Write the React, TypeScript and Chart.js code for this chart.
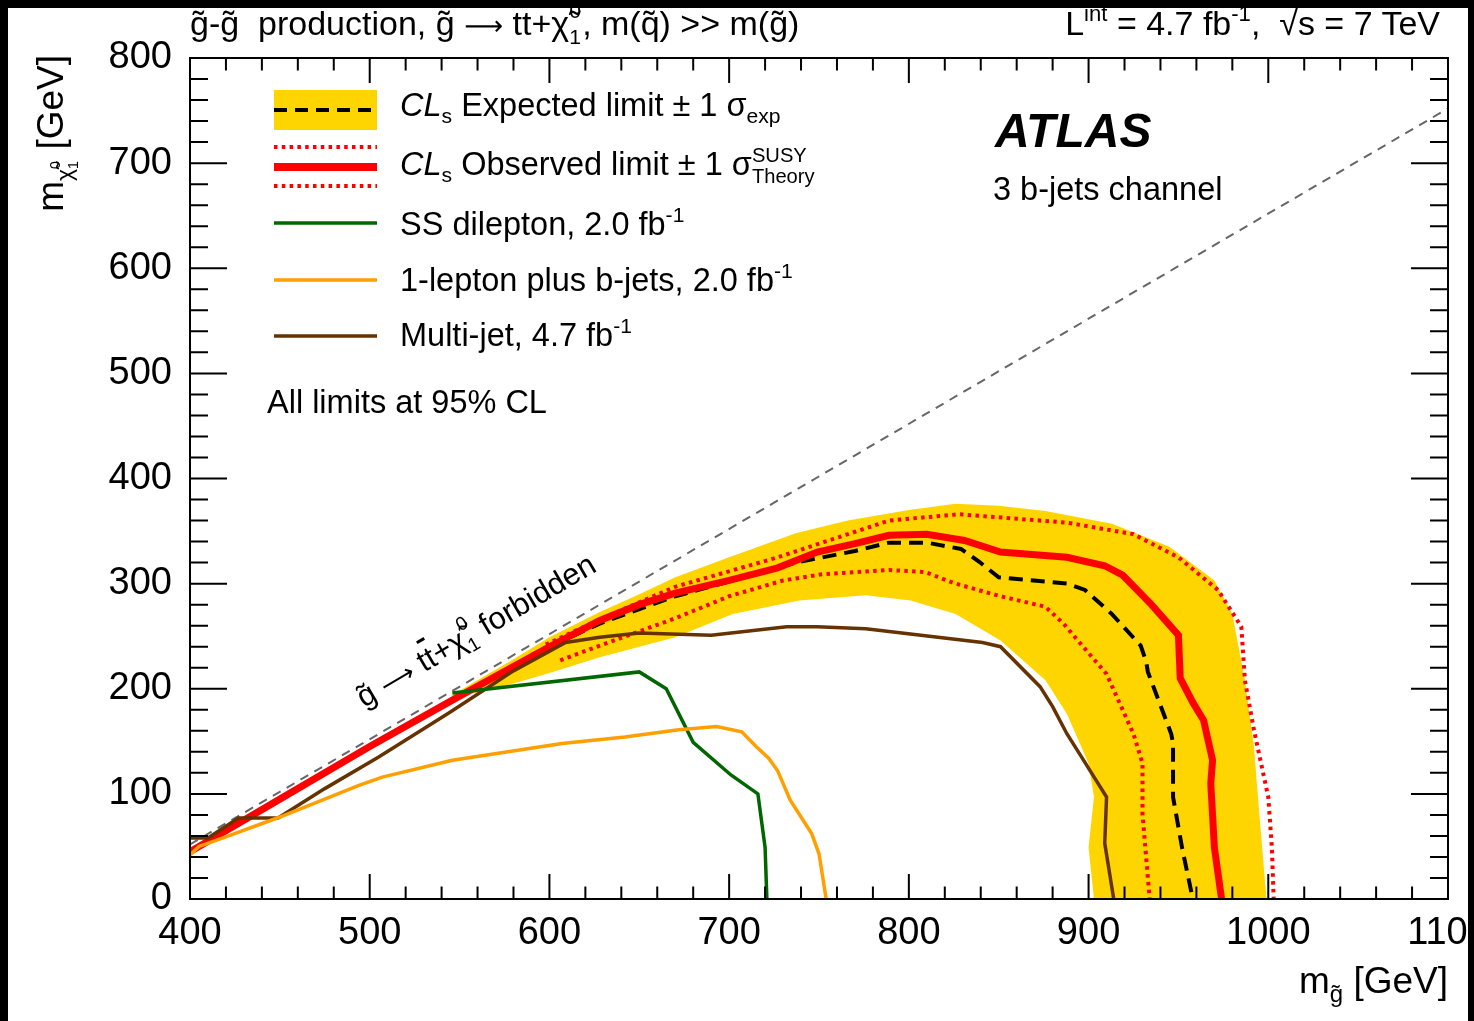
import React, { useEffect, useRef } from "react";
import { Chart, registerables } from "chart.js";

Chart.register(...registerables);

const FONT = "'Liberation Sans', Arial, Helvetica, sans-serif";
const W = 1474;
const H = 1021;

// ---- axes ----
const X_MIN = 400;
const X_MAX = 1100;
const Y_MIN = 0;
const Y_MAX = 800;
const X_MAJOR = 100;
const X_MINOR = 20;
const Y_MAJOR = 100;
const Y_MINOR = 20;

// ---- CLs observed limit ----
const obsX = [400, 450, 500, 550, 600, 628, 650, 670, 700, 727, 749, 770, 789, 810, 831, 851, 888, 909, 919, 935, 950, 951, 958, 964, 969, 968, 970, 974];
const obsY = [45, 95, 145, 193, 240, 265, 280, 291, 303, 315, 330, 338, 346, 347, 341, 330, 325, 317, 308, 280, 251, 210, 187, 170, 132, 110, 49, 0];

// ---- observed +/- 1 sigma theory ----
const thUpX = [598, 628, 670, 727, 789, 828, 888, 925, 950, 972, 985, 987, 992, 1000, 1002, 1003];
const thUpY = [242, 266, 297, 325, 360, 366, 358, 347, 325, 294, 259, 208, 161, 97, 49, 0];
const thDnX = [606, 628, 670, 700, 730, 752, 789, 809, 826, 851, 876, 886, 910, 925, 930, 930, 934];
const thDnY = [227, 241, 267, 288, 303, 309, 313, 311, 300, 288, 278, 262, 214, 157, 129, 81, 0];

// ---- CLs expected limit ----
const expX = [590, 628, 670, 700, 737, 770, 789, 810, 829, 839, 850, 888, 898, 913, 929, 932, 933, 946, 947, 947, 952, 958];
const expY = [232, 262, 288, 302, 320, 331, 339, 339, 333, 321, 306, 300, 294, 271, 241, 226, 216, 157, 148, 97, 49, 0];

// ---- expected +/- 1 sigma band ----
const bandUpX = [545, 560, 580, 600, 628, 650, 670, 700, 737, 766, 800, 826, 850, 876, 913, 945, 970, 980, 987, 992, 995, 999];
const bandUpY = [193, 208, 228, 249, 273, 290, 306, 325, 348, 360, 370, 376, 374, 369, 357, 335, 303, 271, 208, 145, 81, 0];
const bandDnX = [545, 560, 580, 600, 628, 670, 702, 739, 776, 801, 826, 851, 876, 888, 900, 903, 900, 903];
const bandDnY = [193, 196, 205, 215, 230, 249, 271, 284, 289, 284, 271, 246, 208, 176, 129, 97, 49, 0];

// ---- SS dilepton, 2.0 fb-1 ----
const ssX = [546, 650, 665, 680, 701, 716, 720, 721];
const ssY = [196, 216, 200, 149, 118, 100, 49, 0];

// ---- 1-lepton plus b-jets, 2.0 fb-1 ----
const lepX = [400, 405, 418, 450, 494, 507, 546, 607, 642, 672, 693, 707, 715, 722, 727, 734, 746, 750, 754];
const lepY = [42, 50, 58, 78, 108, 116, 132, 148, 154, 161, 164, 159, 145, 134, 122, 94, 62, 43, 0];

// ---- Multi-jet, 4.7 fb-1 ----
const mjX = [400, 410, 427, 449, 475, 505, 544, 580, 609, 628, 650, 690, 732, 749, 776, 841, 851, 873, 880, 888, 895, 910, 909, 914];
const mjY = [58, 58, 77, 77, 105, 135, 177, 217, 244, 249, 253, 251, 259, 259, 257, 244, 240, 202, 183, 157, 138, 97, 53, 0];

// ---- kinematic boundary m(chi) = m(g) - 2 m(t) ----
const diagX = [400, 1100];
const diagY = [52, 752];

const pts = (xs: number[], ys: number[]) => xs.map((x, i) => ({ x, y: ys[i] }));

const YELLOW = "#FFD500";
const RED = "#FF0000";
const GREEN = "#006600";
const ORANGE = "#FF9F00";
const BROWN = "#663300";

const frameTicks = {
  id: "frameTicks",
  afterDatasetsDraw(chart: any) {
    const { ctx, chartArea: a, scales } = chart;
    const xs = scales.x;
    const ys = scales.y;
    ctx.save();
    ctx.strokeStyle = "#000";
    ctx.lineWidth = 2;
    ctx.beginPath();
    for (let v = X_MIN; v <= X_MAX; v += X_MINOR) {
      const p = xs.getPixelForValue(v);
      const len = v % X_MAJOR === 0 ? 25 : 12.5;
      ctx.moveTo(p, a.bottom);
      ctx.lineTo(p, a.bottom - len);
      ctx.moveTo(p, a.top);
      ctx.lineTo(p, a.top + len);
    }
    for (let v = Y_MIN; v <= Y_MAX; v += Y_MINOR) {
      const p = ys.getPixelForValue(v);
      const len = v % Y_MAJOR === 0 ? 37 : 18;
      ctx.moveTo(a.left, p);
      ctx.lineTo(a.left + len, p);
      ctx.moveTo(a.right, p);
      ctx.lineTo(a.right - len, p);
    }
    ctx.stroke();
    ctx.strokeRect(a.left, a.top, a.right - a.left, a.bottom - a.top);
    ctx.restore();
  },
};

function Txt({ x, y, size, right, children, style }: any) {
  const st: any = {
    position: "absolute",
    top: y - 0.8464 * size,
    fontSize: size,
    lineHeight: 1,
    whiteSpace: "nowrap",
    fontFamily: FONT,
    color: "#000",
    ...(style || {}),
  };
  if (right !== undefined) st.right = W - right;
  else st.left = x;
  return <div style={st}>{children}</div>;
}

function Sup({ size, children, dy = 0.42 }: any) {
  return <span style={{ fontSize: size * 0.65, position: "relative", top: -size * dy }}>{children}</span>;
}

function Sub({ size, children, dy = 0.2 }: any) {
  return <span style={{ fontSize: size * 0.65, position: "relative", top: size * dy }}>{children}</span>;
}

function Stack({ size, sup, sub, w, up = 1.05 }: any) {
  return (
    <span style={{ display: "inline-block", position: "relative", width: w, height: 0 }}>
      <span style={{ position: "absolute", left: 0, top: -size * up, fontSize: size * 0.62, lineHeight: 1 }}>{sup}</span>
      <span style={{ position: "absolute", left: 0, top: -size * 0.28, fontSize: size * 0.62, lineHeight: 1 }}>{sub}</span>
    </span>
  );
}

function Arrow() {
  return <span style={{ fontFamily: "'DejaVu Sans', sans-serif", fontSize: "0.8em" }}>{"\u27F6"}</span>;
}

const GT = "g\u0303";
const CHI = "\u03C7\u0303";

export default function App() {
  const ref = useRef<HTMLCanvasElement | null>(null);

  useEffect(() => {
    if (!ref.current) return;
    const bandPoly = [...pts(bandUpX, bandUpY), ...pts(bandDnX, bandDnY).reverse()];
    const base = { pointRadius: 0, pointHoverRadius: 0, tension: 0, fill: false };
    const chart = new Chart(ref.current, {
      type: "line",
      data: {
        datasets: [
          { ...base, label: "band", data: bandPoly, borderWidth: 0, borderColor: YELLOW, backgroundColor: YELLOW, fill: "shape", order: 10 },
          { ...base, label: "diag", data: pts(diagX, diagY), borderColor: "#666666", borderWidth: 2, borderDash: [9, 7], order: 9 },
          { ...base, label: "thUp", data: pts(thUpX, thUpY), borderColor: RED, borderWidth: 4, borderDash: [3.5, 4.3], order: 8 },
          { ...base, label: "thDn", data: pts(thDnX, thDnY), borderColor: RED, borderWidth: 4, borderDash: [3.5, 4.3], order: 8 },
          { ...base, label: "exp", data: pts(expX, expY), borderColor: "#000", borderWidth: 4, borderDash: [14, 8], order: 7 },
          { ...base, label: "obs", data: pts(obsX, obsY), borderColor: RED, borderWidth: 7, order: 6 },
          { ...base, label: "mj", data: pts(mjX, mjY), borderColor: BROWN, borderWidth: 3.5, order: 5 },
          { ...base, label: "ss", data: pts(ssX, ssY), borderColor: GREEN, borderWidth: 3.5, order: 4 },
          { ...base, label: "lep", data: pts(lepX, lepY), borderColor: ORANGE, borderWidth: 3.5, order: 3 },
        ],
      },
      options: {
        animation: false,
        responsive: false,
        maintainAspectRatio: false,
        devicePixelRatio: 1,
        layout: { padding: { left: 8, top: 58, right: 26, bottom: 0 } },
        plugins: { legend: { display: false }, tooltip: { enabled: false }, title: { display: false } },
        scales: {
          x: {
            type: "linear",
            min: X_MIN,
            max: X_MAX,
            afterFit: (s: any) => {
              s.height = H - 899;
              s.paddingLeft = 0;
              s.paddingRight = 0;
            },
            ticks: {
              stepSize: X_MAJOR,
              autoSkip: false,
              maxRotation: 0,
              padding: 12,
              color: "#000",
              font: { family: FONT, size: 38 },
              callback: (v: any) => String(v),
            },
            grid: { display: false, drawTicks: false },
            border: { display: false },
          },
          y: {
            type: "linear",
            min: Y_MIN,
            max: Y_MAX,
            afterFit: (s: any) => {
              s.width = 182;
              s.paddingTop = 0;
              s.paddingBottom = 0;
            },
            ticks: {
              stepSize: Y_MAJOR,
              autoSkip: false,
              padding: 18,
              color: "#000",
              font: { family: FONT, size: 38 },
              callback: (v: any) => String(v),
            },
            grid: { display: false, drawTicks: false },
            border: { display: false },
          },
        },
      },
      plugins: [frameTicks],
    } as any);
    return () => chart.destroy();
  }, []);

  const LF = 32.5;
  const TF = 34;
  const AF = 37;
  const RF = 31;

  return (
    <div style={{ position: "absolute", left: 0, top: 0, width: W, height: H, background: "#fff", overflow: "hidden", fontFamily: FONT }}>
      <canvas ref={ref} width={W} height={H} style={{ position: "absolute", left: 0, top: 0, width: W, height: H }} />

      {/* legend symbols */}
      <svg width={W} height={H} style={{ position: "absolute", left: 0, top: 0, pointerEvents: "none" }}>
        <rect x={274} y={90} width={103} height={40} fill={YELLOW} />
        <line x1={274} x2={377} y1={110} y2={110} stroke="#000" strokeWidth={4} strokeDasharray="13 8" />
        <line x1={274} x2={377} y1={147} y2={147} stroke={RED} strokeWidth={4} strokeDasharray="3.5 4.3" />
        <line x1={274} x2={377} y1={167} y2={167} stroke={RED} strokeWidth={8} />
        <line x1={274} x2={377} y1={186} y2={186} stroke={RED} strokeWidth={4} strokeDasharray="3.5 4.3" />
        <line x1={274} x2={377} y1={223} y2={223} stroke={GREEN} strokeWidth={3.5} />
        <line x1={274} x2={377} y1={280} y2={280} stroke={ORANGE} strokeWidth={3.5} />
        <line x1={274} x2={377} y1={336} y2={336} stroke={BROWN} strokeWidth={3.5} />
      </svg>

      {/* legend texts */}
      <Txt x={400} y={117} size={LF}>
        <i>CL</i><Sub size={LF}>s</Sub> Expected limit ± 1 σ<Sub size={LF}>exp</Sub>
      </Txt>
      <Txt x={400} y={176} size={LF}>
        <i>CL</i><Sub size={LF}>s</Sub> Observed limit ± 1 σ<Stack size={LF} sup="SUSY" sub="Theory" w={62} up={0.95} />
      </Txt>
      <Txt x={400} y={236} size={LF}>
        SS dilepton, 2.0 fb<Sup size={LF}>-1</Sup>
      </Txt>
      <Txt x={400} y={292} size={LF}>
        1-lepton plus b-jets, 2.0 fb<Sup size={LF}>-1</Sup>
      </Txt>
      <Txt x={400} y={347} size={LF}>
        Multi-jet, 4.7 fb<Sup size={LF}>-1</Sup>
      </Txt>
      <Txt x={267} y={414} size={LF}>All limits at 95% CL</Txt>

      {/* ATLAS label */}
      <Txt x={995} y={148} size={48} style={{ fontWeight: "bold", fontStyle: "italic" }}>ATLAS</Txt>
      <Txt x={993} y={201} size={LF}>3 b-jets channel</Txt>

      {/* top texts */}
      <Txt x={190} y={35} size={TF}>
        {GT}-{GT}&nbsp; production, {GT} <Arrow /> tt+{CHI}<Stack size={TF} sup="0" sub="1" w={13} />, m(q̃) &gt;&gt; m({GT})
      </Txt>
      <Txt right={1440} y={35} size={TF}>
        L<Sup size={TF}>int</Sup> = 4.7 fb<Sup size={TF}>-1</Sup>,&nbsp; √s = 7 TeV
      </Txt>

      {/* x axis title */}
      <Txt right={1448} y={993} size={AF}>
        m<Sub size={AF} dy={0.25}>{GT}</Sub> [GeV]
      </Txt>

      {/* y axis title (rotated) */}
      <div style={{ position: "absolute", left: 63 + 0.1536 * AF, top: 55, width: 0, height: 0 }}>
        <span
          style={{
            position: "absolute",
            right: 0,
            bottom: 0,
            fontSize: AF,
            lineHeight: 1,
            whiteSpace: "nowrap",
            transformOrigin: "right bottom",
            transform: "rotate(-90deg)",
          }}
        >
          m<span style={{ fontSize: AF * 0.62, position: "relative", top: AF * 0.25 }}>{CHI}<Stack size={AF * 0.62} sup="0" sub="1" w={9} /></span> [GeV]
        </span>
      </div>

      {/* forbidden region annotation */}
      <div style={{ position: "absolute", left: 364, top: 708, width: 0, height: 0 }}>
        <span
          style={{
            position: "absolute",
            left: 0,
            top: -0.8464 * RF,
            fontSize: RF,
            lineHeight: 1,
            whiteSpace: "nowrap",
            transformOrigin: `0px ${0.8464 * RF}px`,
            transform: "rotate(-30.4deg)",
          }}
        >
          {GT} <Arrow /> t<span style={{ textDecoration: "overline", textDecorationThickness: 3 }}>t</span>+{CHI}<Stack size={RF} sup="0" sub="1" w={12} /> forbidden
        </span>
      </div>

      {/* black frame bands of the picture */}
      <div style={{ position: "absolute", left: 0, top: 0, width: W, height: 8, background: "#000" }} />
      <div style={{ position: "absolute", left: 0, top: 0, width: 8, height: H, background: "#000" }} />
      <div style={{ position: "absolute", left: 1468, top: 0, width: W - 1468, height: H, background: "#000" }} />
    </div>
  );
}
